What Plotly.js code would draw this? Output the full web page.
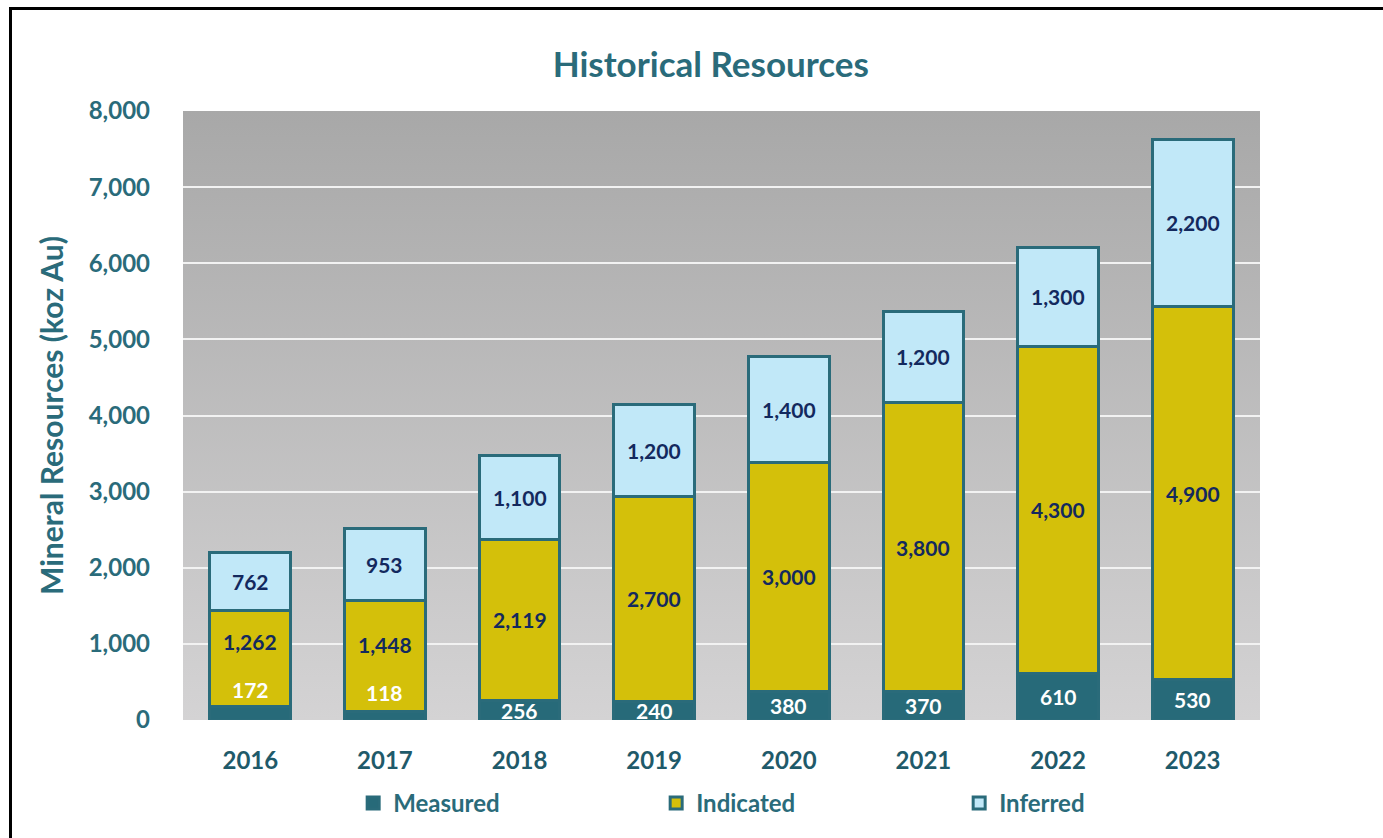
<!DOCTYPE html>
<html>
<head>
<meta charset="utf-8">
<script src="https://cdn.plot.ly/plotly-3.0.1.min.js"></script>
<style>
  html, body { margin: 0; padding: 0; background: #ffffff; }
  #wrap { position: relative; width: 1383px; height: 838px; overflow: hidden; }
  #frame { position: absolute; left: 9px; top: 7px; width: 1400px; height: 900px;
           border-left: 3px solid #000; border-top: 3px solid #000; }
  #bg { position: absolute; left: 183px; top: 111px; width: 1077px; height: 609px;
        background: linear-gradient(to bottom, #a8a8a8 0%, #d4d3d4 100%); }
  #chart { position: absolute; left: 0; top: 0; width: 1383px; height: 838px; }
</style>
</head>
<body>
<div id="wrap">
  <div id="frame"></div>
  <div id="bg"></div>
  <div id="chart"></div>
</div>
<script>
// ---- data ----
const years = ['2016', '2017', '2018', '2019', '2020', '2021', '2022', '2023'];
const measured  = [172, 118, 256, 240, 380, 370, 610, 530];
const indicated = [1262, 1448, 2119, 2700, 3000, 3800, 4300, 4900];
const inferred  = [762, 953, 1100, 1200, 1400, 1200, 1300, 2200];
const yTicks = [0, 1000, 2000, 3000, 4000, 5000, 6000, 7000, 8000];

// label pixel nudges (style only)
const measuredShift  = [24, 23, 0, 0, 0, 0, 0, 0];
const indicatedShift = [17, 11, 0, 0, 0, 0, 0, 0];

const teal = '#2a6b7a';
const navy = '#13295e';
const fontFam = 'Lato, "Open Sans", sans-serif';

const fmt = v => v.toLocaleString('en-US');

const lineStyle = { color: teal, width: 3 };
const traces = [
  { type: 'bar', name: 'Measured', x: years, y: measured,
    marker: { color: '#276a79', line: lineStyle }, hoverinfo: 'y+name' },
  { type: 'bar', name: 'Indicated', x: years, y: indicated,
    marker: { color: '#d4c00a', line: lineStyle }, hoverinfo: 'y+name' },
  { type: 'bar', name: 'Inferred', x: years, y: inferred,
    marker: { color: '#c1e8f8', line: lineStyle }, hoverinfo: 'y+name' }
];

const annotations = [];
years.forEach((yr, i) => {
  annotations.push({ x: i, y: measured[i] / 2, text: fmt(measured[i]), showarrow: false,
    yshift: measuredShift[i], font: { family: fontFam, size: 21, color: '#ffffff', weight: 'bold' } });
  annotations.push({ x: i, y: measured[i] + indicated[i] / 2, text: fmt(indicated[i]), showarrow: false,
    yshift: indicatedShift[i], font: { family: fontFam, size: 21, color: navy, weight: 'bold' } });
  annotations.push({ x: i, y: measured[i] + indicated[i] + inferred[i] / 2, text: fmt(inferred[i]), showarrow: false,
    font: { family: fontFam, size: 21, color: navy, weight: 'bold' } });
});

const layout = {
  width: 1383, height: 838,
  margin: { l: 183, r: 123, t: 111, b: 118 },
  paper_bgcolor: 'rgba(0,0,0,0)',
  plot_bgcolor: 'rgba(0,0,0,0)',
  barmode: 'stack',
  bargap: 0.4,
  showlegend: true,
  title: { text: 'Historical Resources', x: 0.514, xref: 'container', y: 0.923, yref: 'container',
           xanchor: 'center', yanchor: 'middle',
           font: { family: fontFam, size: 35, color: teal, weight: 'bold' } },
  xaxis: { type: 'category', range: [-0.5, years.length - 0.5], autorange: false, automargin: false,
           tickfont: { family: fontFam, size: 24, color: '#1f5a6a', weight: 'bold' },
           showgrid: false, zeroline: false, showline: false, ticks: '', ticklabelstandoff: 24 },
  yaxis: { range: [0, 8000], autorange: false, automargin: false, tickvals: yTicks, ticktext: yTicks.map(fmt),
           tickfont: { family: fontFam, size: 24, color: teal, weight: 'bold' },
           showgrid: true, gridcolor: '#f2f2f2', gridwidth: 2, zeroline: false, showline: false,
           ticks: '', ticklabelstandoff: 32,
           title: { text: 'Mineral Resources (koz Au)', standoff: 16,
                    font: { family: fontFam, size: 30, color: teal, weight: 'bold' } } },
  legend: { orientation: 'h', x: 0.158, xanchor: 'left', y: -0.1, yanchor: 'top',
            traceorder: 'normal', entrywidth: 258, entrywidthmode: 'pixels',
            font: { family: fontFam, size: 24, color: teal, weight: 'bold' },
            bgcolor: 'rgba(0,0,0,0)' },
  annotations: annotations
};

Plotly.newPlot('chart', traces, layout, { displayModeBar: false, staticPlot: true });
</script>
</body>
</html>
